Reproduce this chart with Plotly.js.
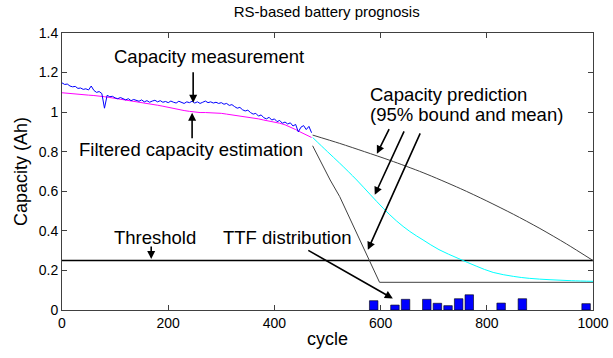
<!DOCTYPE html>
<html>
<head>
<meta charset="utf-8">
<script src="https://cdn.plot.ly/plotly-3.0.1.min.js"></script>
<style>html,body{margin:0;padding:0;background:#fff;}#chart{width:613px;height:358px;}</style>
</head>
<body>
<div id="chart"></div>
<script>
// Measured capacity (every 5 cycles)
const measCycles = [0,5,10,15,20,25,30,35,40,45,50,55,60,65,70,75,80,85,90,95,
  100,105,110,115,120,125,130,135,140,145,150,155,160,165,170,175,180,185,190,195,
  200,205,210,215,220,225,230,235,240,245,250,255,260,265,270,275,280,285,290,295,
  300,305,310,315,320,325,330,335,340,345,350,355,360,365,370,375,380,385,390,395,
  400,405,410,415,420,425,430,435,440,445,450,455,460,465,470];
const measCap = [1.148,1.140,1.142,1.132,1.128,1.130,1.120,1.122,1.115,1.118,1.112,1.132,1.110,1.100,1.104,1.094,1.020,1.085,1.078,1.080,
  1.072,1.068,1.074,1.066,1.062,1.068,1.058,1.064,1.060,1.055,1.062,1.052,1.058,1.050,1.056,1.060,1.052,1.058,1.050,1.054,
  1.048,1.056,1.050,1.046,1.055,1.050,1.044,1.052,1.048,1.055,1.046,1.052,1.044,1.050,1.056,1.048,1.052,1.046,1.050,1.044,
  1.048,1.040,1.044,1.034,1.038,1.028,1.020,1.024,1.012,1.006,1.010,0.998,0.990,0.994,0.980,0.986,0.972,0.966,0.974,0.960,
  0.966,0.952,0.958,0.944,0.950,0.940,0.946,0.930,0.938,0.900,0.924,0.932,0.912,0.928,0.896];

// Filtered capacity estimate
const filtCycles = [0,10,20,30,40,50,60,70,80,90,100,110,120,130,140,150,160,170,180,190,
  200,210,220,230,240,250,260,270,280,290,300,310,320,330,340,350,360,370,380,390,
  400,410,420,430,440,450,460,470];
const filtCap = [1.098,1.095,1.092,1.090,1.088,1.086,1.084,1.082,1.078,1.074,1.070,1.066,1.062,1.058,1.054,1.050,1.046,1.040,1.035,1.030,
  1.024,1.018,1.012,1.008,1.004,1.000,0.998,0.998,0.997,0.996,0.994,0.990,0.986,0.982,0.978,0.976,0.972,0.966,0.960,0.955,
  0.950,0.944,0.936,0.925,0.912,0.898,0.885,0.872];

// Prediction: mean
const meanCycles = [472,500,523,555,580,605,630,655,680,710,746,780,812,850,880,919,960,1000];
const meanCap = [0.872,0.800,0.742,0.657,0.585,0.514,0.450,0.397,0.354,0.305,0.261,0.222,0.190,0.170,0.160,0.153,0.148,0.145];

// Prediction: upper bound
const upCycles = [472,523,570,618,680,750,800,850,900,950,1000];
const upCap = [0.884,0.842,0.800,0.756,0.694,0.614,0.551,0.484,0.412,0.334,0.250];

// Prediction: lower bound
const lowCycles = [472,505,523,560,598,1000];
const lowCap = [0.830,0.657,0.573,0.360,0.140,0.140];

// Threshold
const thrCycles = [0,1000];
const thrCap = [0.25,0.25];

// TTF distribution histogram
const ttfCenters = [587,627,647,687,707,727,747,767,827,867,987];
const ttfHeights = [0.047,0.025,0.054,0.054,0.034,0.022,0.057,0.077,0.035,0.057,0.032];

const FONT = 'Liberation Sans, Arial, sans-serif';

const traces = [
  {x: thrCycles, y: thrCap, mode:'lines', line:{color:'#000000', width:1.5}},
  {x: upCycles, y: upCap, mode:'lines', line:{color:'#404040', width:1, shape:'spline', smoothing:0.8}},
  {x: lowCycles, y: lowCap, mode:'lines', line:{color:'#404040', width:1}},
  {x: meanCycles, y: meanCap, mode:'lines', line:{color:'#00ffff', width:1, shape:'spline'}},
  {x: filtCycles, y: filtCap, mode:'lines', line:{color:'#ff00ff', width:1}},
  {x: measCycles, y: measCap, mode:'lines', line:{color:'#0000ff', width:1}},
  {type:'bar', x: ttfCenters, y: ttfHeights, width: 16, marker:{color:'#0000ff', line:{color:'#000000', width:0.6}}}
];

const axisCommon = {
  showline:true, linecolor:'#404040', linewidth:1, mirror:'allticks',
  ticks:'inside', ticklen:5, tickcolor:'#404040', tickwidth:1,
  showgrid:false, zeroline:false,
  tickfont:{family:FONT, size:14, color:'#000'}
};

const annFont = {family:FONT, size:18.5, color:'#000'};
const arrowCommon = {showarrow:true, arrowhead:2, arrowsize:1, arrowwidth:1.6, arrowcolor:'#000', text:'', xref:'x', yref:'y'};

const layout = {
  width:613, height:358,
  margin:{l:62, r:20, t:33, b:48},
  paper_bgcolor:'#fff', plot_bgcolor:'#fff',
  showlegend:false,
  title:{text:'RS-based battery prognosis', font:{family:FONT, size:15, color:'#000'}, x:0.533, xanchor:'center', yref:'container', y:0.968, yanchor:'middle'},
  xaxis:Object.assign({}, axisCommon, {range:[0,1000], dtick:200, tick0:0,
    title:{text:'cycle', font:{family:FONT, size:18, color:'#000'}, standoff:2}}),
  yaxis:Object.assign({}, axisCommon, {range:[0,1.4], dtick:0.2, tick0:0,
    title:{text:'Capacity (Ah)', font:{family:FONT, size:18, color:'#000'}, standoff:6}}),
  annotations:[
    {text:'Capacity measurement', x:277, y:1.28, xref:'x', yref:'y', showarrow:false, font:annFont},
    {text:'Filtered capacity estimation', x:243, y:0.81, xref:'x', yref:'y', showarrow:false, font:annFont},
    {text:'Capacity prediction', x:577, y:1.088, xref:'x', yref:'y', showarrow:false, xanchor:'left', font:annFont},
    {text:'(95% bound and mean)', x:577, y:0.987, xref:'x', yref:'y', showarrow:false, xanchor:'left', font:annFont},
    {text:'Threshold', x:175, y:0.364, xref:'x', yref:'y', showarrow:false, font:annFont},
    {text:'TTF distribution', x:424, y:0.364, xref:'x', yref:'y', showarrow:false, font:annFont},
    Object.assign({}, arrowCommon, {x:247, y:1.048, ax:0, ay:-32}),
    Object.assign({}, arrowCommon, {x:245, y:0.997, ax:0, ay:27}),
    Object.assign({}, arrowCommon, {x:593, y:0.79, ax:13, ay:-26}),
    Object.assign({}, arrowCommon, {x:589, y:0.582, ax:30, ay:-65}),
    Object.assign({}, arrowCommon, {x:576, y:0.304, ax:53, ay:-118}),
    Object.assign({}, arrowCommon, {x:168, y:0.258, ax:0, ay:-14}),
    Object.assign({}, arrowCommon, {x:623, y:0.058, ax:-86, ay:-49})
  ]
};

Plotly.newPlot('chart', traces, layout, {displayModeBar:false, staticPlot:true});
</script>
</body>
</html>
